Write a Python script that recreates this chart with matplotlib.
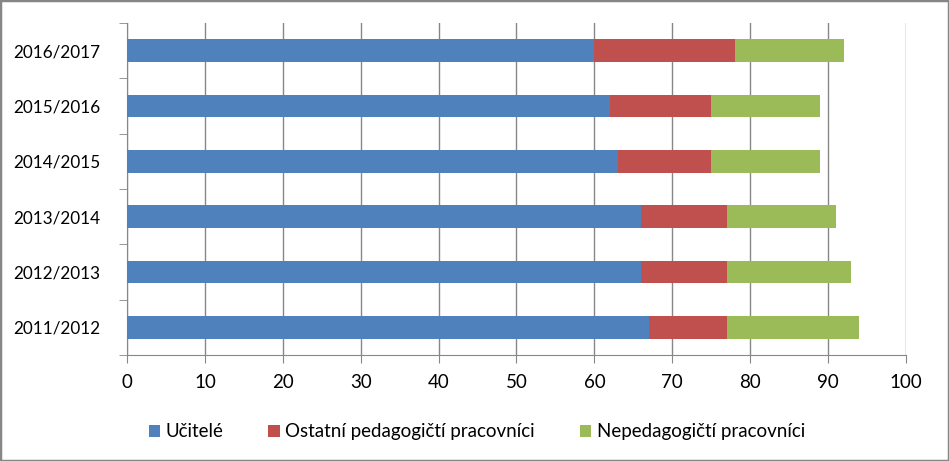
import numpy as np
import matplotlib.pyplot as plt
from matplotlib.patches import Rectangle

# Data
years = ['2011/2012', '2012/2013', '2013/2014', '2014/2015', '2015/2016', '2016/2017']
ucitele = [67, 66, 66, 63, 62, 60]
ostatni = [10, 11, 11, 12, 13, 18]
nepedag = [17, 16, 14, 14, 14, 14]

labels = ['Učitelé', 'Ostatní pedagogičtí pracovníci', 'Nepedagogičtí pracovníci']
colors = ['#4F81BD', '#C0504D', '#9BBB59']

plt.rcParams['font.family'] = ['Lato', 'DejaVu Sans']

fig = plt.figure(figsize=(9.49, 4.61), dpi=100)
ax = fig.add_axes([0.1338, 0.230, 0.8209, 0.720])

y = np.arange(len(years))
left = np.zeros(len(years))
for vals, lab, col in zip([ucitele, ostatni, nepedag], labels, colors):
    ax.barh(y, vals, height=0.41, left=left, color=col, label=lab, zorder=3)
    left = left + np.array(vals)

ax.set_xlim(0, 100)
ax.set_ylim(-0.5, len(years) - 0.5)
ax.set_xticks(np.arange(0, 101, 10))
ax.set_yticks(y)
ax.set_yticklabels(years)
ax.set_yticks(np.arange(-0.5, len(years)), minor=True)
ax.tick_params(axis='y', which='major', length=0, pad=19, labelsize=12.3)
ax.tick_params(axis='y', which='minor', length=6, color='#878787')
ax.tick_params(axis='x', length=6, color='#878787', pad=8, labelsize=13.5)
ax.grid(axis='x', color='#878787', linewidth=1, zorder=0)

for s in ['top', 'right']:
    ax.spines[s].set_visible(False)
for s in ['left', 'bottom']:
    ax.spines[s].set_color('#878787')

ax.legend(loc='upper center', bbox_to_anchor=(0.449, -0.155), ncol=3, frameon=False,
          fontsize=13.5, handlelength=0.6, handleheight=0.6, handletextpad=0.3,
          columnspacing=2.4)

# outer border
fig.patches.append(Rectangle((0, 0), 1, 1, transform=fig.transFigure, fill=False,
                             edgecolor='#868686', linewidth=2.5))

fig.savefig('out.png', dpi=100)
